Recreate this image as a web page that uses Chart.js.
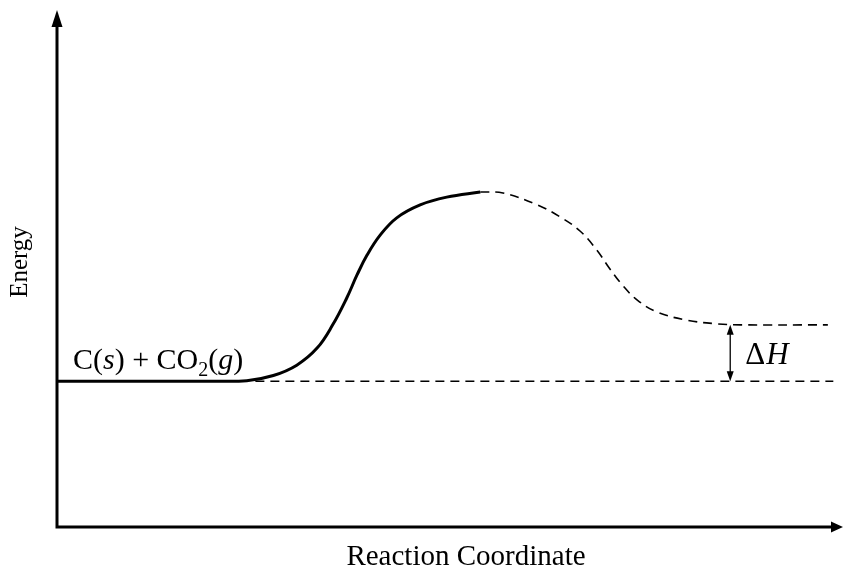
<!DOCTYPE html>
<html>
<head>
<meta charset="utf-8">
<script src="https://cdn.jsdelivr.net/npm/chart.js@4/dist/chart.umd.min.js"></script>
<style>
  html, body { margin: 0; padding: 0; background: #fff; }
  #wrap { width: 843px; height: 569px; }
</style>
</head>
<body>
<div id="wrap"><canvas id="chart" width="843" height="569"></canvas></div>
<script>
// reaction path (x = reaction coordinate, y = energy), arbitrary units 0..100
const solidX = [0, 20, 24.3, 27.7, 30.7, 33.3, 35.3, 37.1, 38.4, 39.7, 41.4, 43.5, 46.5, 49.9, 54.2]
const solidY = [28.2, 28.2, 28.3, 29.3, 31.3, 34.6, 39.1, 44.3, 48.7, 52.6, 56.5, 59.8, 62.3, 63.8, 64.8]
const dashX = [54.2, 57.1, 61.5, 64.4, 67.0, 69.1, 70.8, 72.5, 74.3, 76.8, 80.7, 84.5, 87.5, 98.7]
const dashY = [64.8, 64.6, 62.3, 60.0, 57.2, 53.6, 49.9, 46.6, 43.9, 41.6, 40.0, 39.3, 39.1, 39.1]
const baseX = [25.4, 99.4]
const baseY = [28.2, 28.2]
const deltaH = { x: 86.2, from: 28.2, to: 39.1 }

const labels = {
    xTitle: 'Reaction Coordinate',
    yTitle: 'Energy'
}

const toPts = (xs, ys) => xs.map((x, i) => ({ x, y: ys[i] }))
const FONT = '"Liberation Serif", "Times New Roman", serif'

function arrowHead(ctx, x, y, dir, len, half) {
    ctx.beginPath()
    if (dir === 'up') {
        ctx.moveTo(x, y); ctx.lineTo(x - half, y + len); ctx.lineTo(x + half, y + len)
    } else if (dir === 'down') {
        ctx.moveTo(x, y); ctx.lineTo(x - half, y - len); ctx.lineTo(x + half, y - len)
    } else {
        ctx.moveTo(x, y); ctx.lineTo(x - len, y - half); ctx.lineTo(x - len, y + half)
    }
    ctx.closePath()
    ctx.fill()
}

const decor = {
    id: 'decor',
    afterDraw(chart) {
        const { ctx, chartArea: a, scales: { x, y } } = chart
        ctx.save()
        ctx.fillStyle = '#000'
        ctx.strokeStyle = '#000'

        // axes
        ctx.lineWidth = 3
        ctx.beginPath()
        ctx.moveTo(a.left, 20)
        ctx.lineTo(a.left, a.bottom)
        ctx.lineTo(832, a.bottom)
        ctx.stroke()
        arrowHead(ctx, a.left, 10, 'up', 17, 5.5)
        arrowHead(ctx, 843, a.bottom, 'right', 12, 5.5)

        // delta H double arrow
        const hx = x.getPixelForValue(deltaH.x)
        const y1 = y.getPixelForValue(deltaH.to)
        const y2 = y.getPixelForValue(deltaH.from)
        ctx.lineWidth = 1.3
        ctx.beginPath()
        ctx.moveTo(hx, y1 + 6)
        ctx.lineTo(hx, y2 - 6)
        ctx.stroke()
        arrowHead(ctx, hx, y1, 'up', 10, 3.5)
        arrowHead(ctx, hx, y2, 'down', 10, 3.5)

        ctx.textBaseline = 'alphabetic'
        ctx.textAlign = 'left'
        ctx.font = `31px ${FONT}`
        let cx = hx + 15
        ctx.fillText('\u0394', cx, 364)
        cx += ctx.measureText('\u0394').width + 1
        ctx.font = `italic 31px ${FONT}`
        ctx.fillText('H', cx, 364)

        // reactant label
        const parts = [
            ['C(', ''], ['s', 'italic '], [') + CO', ''],
            ['2', 'sub'], ['(', ''], ['g', 'italic '], [')', '']
        ]
        cx = 73
        for (const [t, style] of parts) {
            if (style === 'sub') {
                ctx.font = `20px ${FONT}`
                ctx.fillText(t, cx, 376)
            } else {
                ctx.font = `${style}30px ${FONT}`
                ctx.fillText(t, cx, 369)
            }
            cx += ctx.measureText(t).width
        }

        // axis titles
        ctx.font = `29px ${FONT}`
        ctx.textAlign = 'center'
        ctx.fillText(labels.xTitle, 466, 565)
        ctx.save()
        ctx.translate(27, 262)
        ctx.rotate(-Math.PI / 2)
        ctx.font = `25px ${FONT}`
        ctx.fillText(labels.yTitle, 0, 0)
        ctx.restore()

        ctx.restore()
    }
}

new Chart(document.getElementById('chart'), {
    type: 'line',
    data: {
        datasets: [
            {
                data: toPts(solidX, solidY),
                borderColor: '#000',
                borderWidth: 3,
                pointRadius: 0,
                tension: 0.4
            },
            {
                data: toPts(dashX, dashY),
                borderColor: '#000',
                borderWidth: 1.6,
                borderDash: [9, 6],
                pointRadius: 0,
                tension: 0.4
            },
            {
                data: toPts(baseX, baseY),
                borderColor: '#000',
                borderWidth: 1.6,
                borderDash: [9, 6],
                pointRadius: 0
            }
        ]
    },
    options: {
        responsive: false,
        animation: false,
        layout: { padding: { left: 57, right: 5, top: 10, bottom: 42 } },
        plugins: { legend: { display: false }, tooltip: { enabled: false } },
        scales: {
            x: { type: 'linear', min: 0, max: 100, display: false },
            y: { type: 'linear', min: 0, max: 100, display: false }
        }
    },
    plugins: [decor]
})
</script>
</body>
</html>
